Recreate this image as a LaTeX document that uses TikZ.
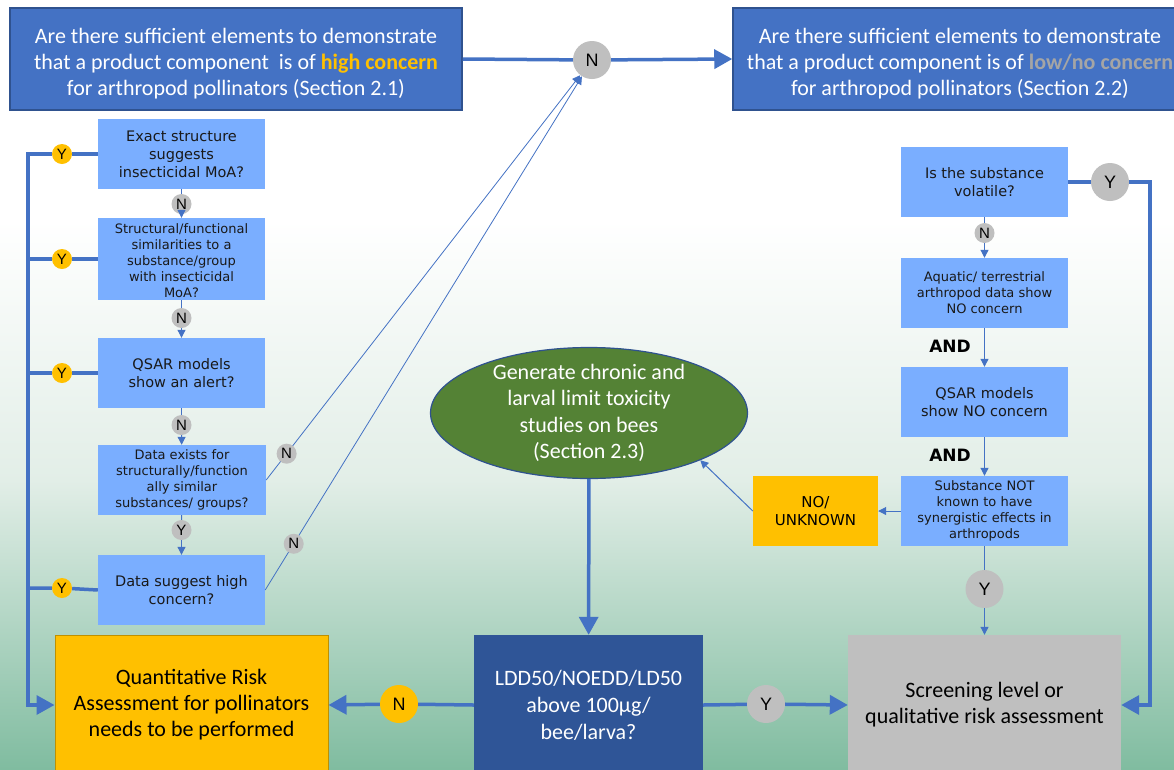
\documentclass[tikz,border=0pt]{standalone}
\usepackage{fontspec}
\setmainfont{Carlito}
\newfontfamily\boxfont{DejaVu Sans}
\newfontfamily\circfont{Liberation Sans}
\usetikzlibrary{arrows.meta, positioning, shapes.geometric, calc}
\definecolor{linkblue}{RGB}{68,114,196}
\definecolor{headborder}{RGB}{47,82,143}
\definecolor{qblue}{RGB}{122,174,255}
\definecolor{darkblue}{RGB}{47,85,151}
\definecolor{amber}{RGB}{255,192,0}
\definecolor{amberedge}{RGB}{191,144,0}
\definecolor{midgrey}{RGB}{191,191,191}
\definecolor{leafgreen}{RGB}{84,130,53}
\definecolor{lowgrey}{RGB}{165,165,165}
\definecolor{bgmid}{RGB}{226,238,231}
\definecolor{bgbot}{RGB}{128,188,160}

\begin{document}
\begin{tikzpicture}[x=1pt, y=-1pt,
        head/.style={rectangle, draw=headborder, line width=1.5pt, fill=linkblue,
                     text=white, minimum width=452pt, minimum height=102pt,
                     inner sep=0pt, align=center, font=\fontsize{22}{26}\selectfont},
        query/.style={rectangle, fill=qblue, minimum width=167pt, minimum height=70pt,
                      inner sep=0pt, align=center, text=black!90,
                      font=\boxfont\fontsize{14.5}{18}\selectfont},
        dense/.style={query, font=\boxfont\fontsize{13}{16}\selectfont},
        outcome/.style={rectangle, minimum width=273pt, minimum height=140pt,
                        inner sep=0pt, align=center, font=\fontsize{22}{26}\selectfont},
        ycirc/.style={circle, fill=amber, text=black, minimum size=20pt, inner sep=0pt,
                      font=\circfont\fontsize{15}{15}\selectfont},
        ncirc/.style={ycirc, fill=midgrey},
        bigcirc/.style={circle, text=black, minimum size=38pt, inner sep=0pt,
                        font=\circfont\fontsize{18}{18}\selectfont},
        andlabel/.style={font=\boxfont\bfseries\fontsize{17}{17}\selectfont},
        mainline/.style={linkblue, line width=3.5pt},
        mainarrow/.style={mainline, -{Triangle[length=18pt,width=19pt]}},
        thinline/.style={linkblue, line width=1pt},
        thinarrow/.style={thinline, -{Triangle[length=8pt,width=8pt]}},
    ]
    \useasboundingbox (0,0) rectangle (1174,769);
    % background
    \fill[white] (0,0) rectangle (1174,220);
    \shade[top color=white, bottom color=bgmid] (0,220) rectangle (1174,481);
    \shade[top color=bgmid, bottom color=bgbot] (0,480) rectangle (1174,769);

    % headline questions
    \node[head] (hc) at (236,59) {\rule{0pt}{24pt}Are there sufficient elements to demonstrate\\that a product component\ \ is of \textcolor{amber}{\textbf{high concern}}\\for arthropod pollinators (Section 2.1)};
    \node[head, minimum width=454pt] (lc) at (960,59) {\rule{0pt}{24pt}Are there sufficient elements to demonstrate\\that a product component is of \textcolor{lowgrey}{\textbf{low/no concern}}\\for arthropod pollinators (Section 2.2)};
    \node[bigcirc, fill=midgrey] (ntop) at (592,60) {N};

    % left column
    \node[query] (exact) at (181.5,154) {Exact structure\\suggests\\insecticidal MoA?};
    \node[dense, minimum height=82pt] (simil) at (181.5,259) {\rule{0pt}{14pt}Structural/functional\\similarities to a\\substance/group\\with insecticidal\\MoA?};
    \node[query] (qsar) at (181.5,373) {QSAR models\\show an alert?};
    \node[dense, minimum width=168pt] (dexist) at (182,480) {Data exists for\\structurally/function\\ally similar\\substances/ groups?};
    \node[query] (dhigh) at (181.5,590) {Data suggest high\\concern?};

    \node[ncirc] (na) at (181.5,204) {N};
    \node[ncirc] (nb) at (181.5,318) {N};
    \node[ncirc] (nc) at (181.5,425) {N};
    \node[ncirc] (yd) at (181.5,530) {Y};

    \node[ycirc] (ya) at (62,154) {Y};
    \node[ycirc] (yb) at (62,259) {Y};
    \node[ycirc] (yc) at (62,373) {Y};
    \node[ycirc] (ye) at (62,588) {Y};

    % bottom row
    \node[outcome, fill=amber, draw=amberedge, line width=1pt] (qra) at (191.5,705) {Quantitative Risk\\Assessment for pollinators\\needs to be performed};
    \node[outcome, fill=darkblue, text=white, minimum width=229pt, font=\fontsize{22}{27}\selectfont] (ldd) at (588.5,705) {LDD50/NOEDD/LD50\\above 100µg/\\bee/larva?};
    \node[outcome, fill=midgrey] (scr) at (984.5,705) {Screening level or\\qualitative risk assessment};
    \node[bigcirc, fill=amber] (nq) at (399,704) {N};
    \node[bigcirc, fill=midgrey] (ys) at (766,704) {Y};

    % middle
    \node[ellipse, draw=headborder, line width=1.2pt, fill=leafgreen, text=white,
          minimum width=317pt, minimum height=131pt, inner xsep=0pt, inner ysep=-8pt,
          align=center, font=\fontsize{22}{26.5}\selectfont] (gen) at (589,413)
          {Generate chronic and\\larval limit toxicity\\studies on bees\\(Section 2.3)};

    % right column
    \node[query] (vol) at (984.5,182) {Is the substance\\volatile?};
    \node[dense] (aqua) at (984.5,293) {Aquatic/ terrestrial\\arthropod data show\\NO concern};
    \node[query] (qsarno) at (984.5,402) {QSAR models\\show NO concern};
    \node[dense] (syn) at (984.5,511) {Substance NOT\\known to have\\synergistic effects in\\arthropods};
    \node[rectangle, fill=amber, minimum width=125pt, minimum height=70pt, inner sep=0pt,
          align=center, font=\boxfont\fontsize{15}{18}\selectfont] (unk) at (815.5,511) {NO/\\UNKNOWN};

    \node[ncirc] (nr) at (984.5,233) {N};
    \node[bigcirc, fill=midgrey] (yr) at (984.5,589) {Y};
    \node[bigcirc, fill=midgrey] (yv) at (1110,182) {Y};
    \node[andlabel] (anda) at (950,346) {AND};
    \node[andlabel] (andb) at (950,455) {AND};

    % connectors, top
    \draw[mainline] (hc.east) -- (ntop);
    \draw[mainarrow] (ntop) -- (lc.west);

    % left chain
    \draw[thinline] (exact) -- (na);
    \draw[thinarrow] (na) -- (simil);
    \draw[thinline] (simil) -- (nb);
    \draw[thinarrow] (nb) -- (qsar);
    \draw[thinline] (qsar) -- (nc);
    \draw[thinarrow] (nc) -- (dexist);
    \draw[thinline] (dexist) -- (yd);
    \draw[thinarrow] (yd) -- (dhigh);

    \coordinate (trunk) at (28,154);
    \draw[mainarrow] (exact.west) -- (ya) -- (trunk) |- (qra.west);
    \draw[mainline] (simil.west) -- (yb) -- (yb -| trunk);
    \draw[mainline] (qsar.west) -- (yc) -- (yc -| trunk);
    \draw[mainline] (dhigh.west) -- (ye) -- (ye -| trunk);

    \draw[thinarrow, line width=0.8pt] (dexist.east) -- node[ncirc, pos=0.065] (nd) {N} (ntop);
    \draw[thinarrow, line width=0.8pt] (dhigh.east) -- node[ncirc, pos=0.09] (nh) {N} (ntop);

    % bottom row
    \draw[mainarrow] (gen) -- (ldd);
    \draw[mainline] (ldd.west) -- (nq);
    \draw[mainarrow] (nq) -- (qra.east);
    \draw[mainline] (ldd.east) -- (ys);
    \draw[mainarrow] (ys) -- (scr.west);

    % right chain
    \draw[thinline] (vol) -- (nr);
    \draw[thinarrow] (nr) -- (aqua);
    \draw[thinarrow] (aqua) -- (qsarno);
    \draw[thinarrow] (qsarno) -- (syn);
    \draw[thinline] (syn) -- (yr);
    \draw[thinarrow] (yr) -- (scr);
    \draw[thinarrow] (syn) -- (unk);
    \draw[thinarrow] (unk.west) -- (gen.-23);

    \coordinate (rtrunk) at (1150,182);
    \draw[mainline] (vol.east) -- (yv);
    \draw[mainarrow] (yv) -- (rtrunk) |- (scr.east);
\end{tikzpicture}
\end{document}
